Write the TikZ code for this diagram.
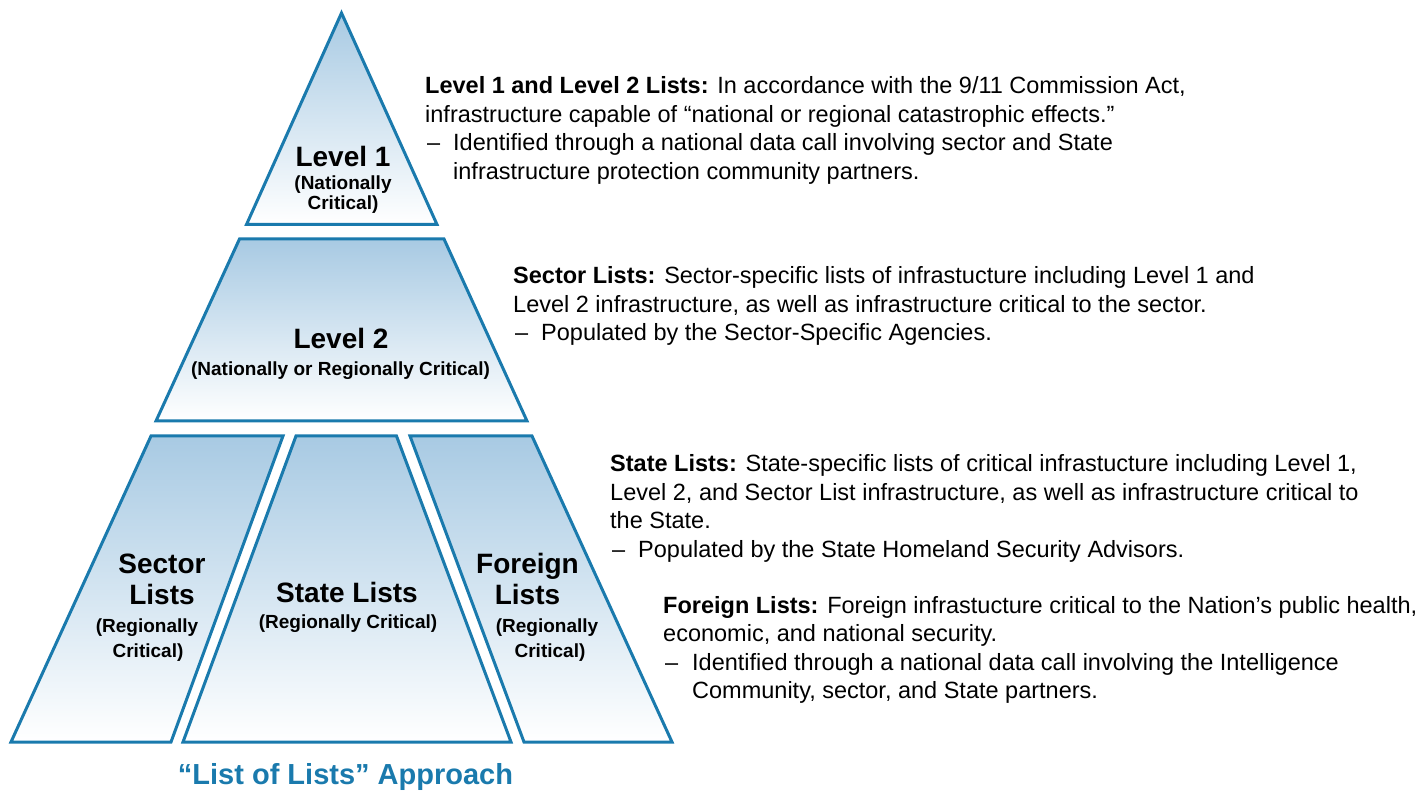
\documentclass[tikz,border=0pt]{standalone}
\usepackage{fontspec}
\setmainfont{Liberation Sans}
\definecolor{pyrblue}{RGB}{26,122,173}
\definecolor{pyrtop}{RGB}{168,202,227}
\newcommand{\bodyfont}{\fontsize{23.5pt}{28.5pt}\selectfont}
\newcommand{\headfont}{\fontsize{28pt}{32pt}\selectfont\bfseries}
\newcommand{\subfont}{\fontsize{19pt}{22pt}\selectfont\bfseries}

\begin{document}
\begin{tikzpicture}[x=1pt,y=-1pt,
    tier/.style={draw=pyrblue,line width=3pt,top color=pyrtop,bottom color=white},
    head/.style={anchor=base,inner sep=0pt,font=\headfont},
    sub/.style={anchor=base,inner sep=0pt,font=\subfont},
    body/.style={anchor=base west,inner sep=0pt,font=\bodyfont}]
    \useasboundingbox (0,0) rectangle (1428,791);
    % pyramid tiers
    \draw[tier] (341.5,13) -- (437,224.5) -- (246.5,224.5) -- cycle;
    \draw[tier] (239.5,239) -- (444,239) -- (527,421) -- (156,421) -- cycle;
    \draw[tier] (151,436) -- (283,436) -- (171,742) -- (11,742) -- cycle;
    \draw[tier] (296,436) -- (396.5,436) -- (511,742) -- (183,742) -- cycle;
    \draw[tier] (410,436) -- (532,436) -- (672,742) -- (524,742) -- cycle;
    % tier labels
    \node[head] (lvlone) at (343,167) {Level 1};
    \node[sub] (lvlonea) at (343,190) {(Nationally};
    \node[sub] (lvloneb) at (343,210) {Critical)};
    \node[head] (lvltwo) at (341,349) {Level 2};
    \node[sub] (lvltwoa) at (340.5,376) {(Nationally or Regionally Critical)};
    \node[head] (seca) at (162,573) {Sector};
    \node[head] (secb) at (162,604) {Lists};
    \node[sub] (secc) at (147,632) {(Regionally};
    \node[sub] (secd) at (148,657) {Critical)};
    \node[head] (stta) at (347,602) {State Lists};
    \node[sub] (sttb) at (348,628) {(Regionally Critical)};
    \node[head] (fora) at (527.5,573) {Foreign};
    \node[head] (forb) at (527.5,604) {Lists};
    \node[sub] (forc) at (547,632) {(Regionally};
    \node[sub] (ford) at (550,657) {Critical)};
    \node[anchor=base,inner sep=0pt,text=pyrblue,font=\fontsize{29pt}{32pt}\selectfont\bfseries]
        (title) at (345.5,784) {“List of Lists” Approach};
    % descriptions
    \node[body] (lvla) at (425,94) {\textbf{Level 1 and Level 2 Lists:} In accordance with the 9/11 Commission Act,};
    \node[body] (lvlb) at (425,122.5) {infrastructure capable of “national or regional catastrophic effects.”};
    \node[body] (lvlc) at (427,151) {–};
    \node[body] (lvld) at (453,151) {Identified through a national data call involving sector and State};
    \node[body] (lvle) at (453,179.5) {infrastructure protection community partners.};
    \node[body] (seclista) at (513,284) {\textbf{Sector Lists:} Sector-specific lists of infrastucture including Level 1 and};
    \node[body] (seclistb) at (513,312.5) {Level 2 infrastructure, as well as infrastructure critical to the sector.};
    \node[body] (seclistc) at (515,341) {–};
    \node[body] (seclistd) at (541,341) {Populated by the Sector-Specific Agencies.};
    \node[body] (sttlista) at (610,472) {\textbf{State Lists:} State-specific lists of critical infrastucture including Level 1,};
    \node[body] (sttlistb) at (610,500.5) {Level 2, and Sector List infrastructure, as well as infrastructure critical to};
    \node[body] (sttlistc) at (610,529) {the State.};
    \node[body] (sttlistd) at (612,557.5) {–};
    \node[body] (sttliste) at (638,557.5) {Populated by the State Homeland Security Advisors.};
    \node[body] (forlista) at (663,613) {\textbf{Foreign Lists:} Foreign infrastucture critical to the Nation’s public health,};
    \node[body] (forlistb) at (663,641.5) {economic, and national security.};
    \node[body] (forlistc) at (665,670) {–};
    \node[body] (forlistd) at (692,670) {Identified through a national data call involving the Intelligence};
    \node[body] (forliste) at (692,698.5) {Community, sector, and State partners.};
\end{tikzpicture}
\end{document}
